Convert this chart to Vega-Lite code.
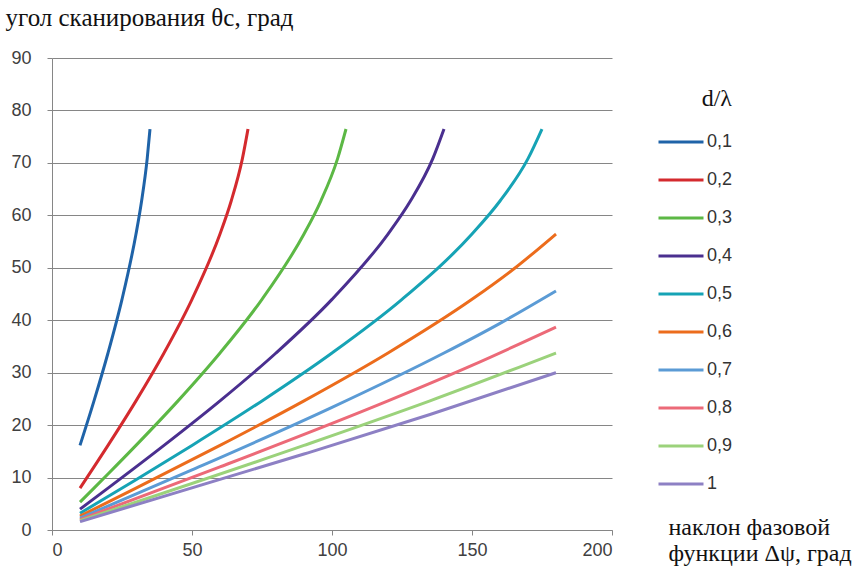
{
  "$schema": "https://vega.github.io/schema/vega-lite/v6.json",
  "width": 560,
  "height": 472,
  "autosize": {"type": "none"},
  "padding": {"left": 52, "top": 58, "right": 246, "bottom": 44},
  "background": "white",
  "config": {"view": {"stroke": null}},
  "data": {"values": [
    {"x": 10, "y": 16.13, "d": "0,1"}, {"x": 15, "y": 24.62, "d": "0,1"}, {"x": 20, "y": 33.75, "d": "0,1"}, {"x": 25, "y": 43.98, "d": "0,1"}, {"x": 30, "y": 56.44, "d": "0,1"}, {"x": 32, "y": 62.73, "d": "0,1"}, {"x": 34, "y": 70.81, "d": "0,1"}, {"x": 35, "y": 76.46, "d": "0,1"},
    {"x": 10, "y": 7.98, "d": "0,2"}, {"x": 20, "y": 16.13, "d": "0,2"}, {"x": 30, "y": 24.62, "d": "0,2"}, {"x": 40, "y": 33.75, "d": "0,2"}, {"x": 50, "y": 43.98, "d": "0,2"}, {"x": 60, "y": 56.44, "d": "0,2"}, {"x": 64, "y": 62.73, "d": "0,2"}, {"x": 68, "y": 70.81, "d": "0,2"}, {"x": 70, "y": 76.46, "d": "0,2"},
    {"x": 10, "y": 5.31, "d": "0,3"}, {"x": 15, "y": 7.98, "d": "0,3"}, {"x": 20, "y": 10.67, "d": "0,3"}, {"x": 30, "y": 16.13, "d": "0,3"}, {"x": 45, "y": 24.62, "d": "0,3"}, {"x": 60, "y": 33.75, "d": "0,3"}, {"x": 75, "y": 43.98, "d": "0,3"}, {"x": 90, "y": 56.44, "d": "0,3"}, {"x": 96, "y": 62.73, "d": "0,3"}, {"x": 102, "y": 70.81, "d": "0,3"}, {"x": 105, "y": 76.46, "d": "0,3"},
    {"x": 10, "y": 3.98, "d": "0,4"}, {"x": 20, "y": 7.98, "d": "0,4"}, {"x": 40, "y": 16.13, "d": "0,4"}, {"x": 60, "y": 24.62, "d": "0,4"}, {"x": 80, "y": 33.75, "d": "0,4"}, {"x": 100, "y": 43.98, "d": "0,4"}, {"x": 120, "y": 56.44, "d": "0,4"}, {"x": 128, "y": 62.73, "d": "0,4"}, {"x": 136, "y": 70.81, "d": "0,4"}, {"x": 140, "y": 76.46, "d": "0,4"},
    {"x": 10, "y": 3.19, "d": "0,5"}, {"x": 20, "y": 6.38, "d": "0,5"}, {"x": 30, "y": 9.59, "d": "0,5"}, {"x": 50, "y": 16.13, "d": "0,5"}, {"x": 75, "y": 24.62, "d": "0,5"}, {"x": 100, "y": 33.75, "d": "0,5"}, {"x": 125, "y": 43.98, "d": "0,5"}, {"x": 150, "y": 56.44, "d": "0,5"}, {"x": 160, "y": 62.73, "d": "0,5"}, {"x": 170, "y": 70.81, "d": "0,5"}, {"x": 175, "y": 76.46, "d": "0,5"},
    {"x": 10, "y": 2.65, "d": "0,6"}, {"x": 30, "y": 7.98, "d": "0,6"}, {"x": 60, "y": 16.13, "d": "0,6"}, {"x": 90, "y": 24.62, "d": "0,6"}, {"x": 120, "y": 33.75, "d": "0,6"}, {"x": 150, "y": 43.98, "d": "0,6"}, {"x": 165, "y": 49.81, "d": "0,6"}, {"x": 180, "y": 56.44, "d": "0,6"},
    {"x": 10, "y": 2.27, "d": "0,7"}, {"x": 50, "y": 11.45, "d": "0,7"}, {"x": 100, "y": 23.38, "d": "0,7"}, {"x": 140, "y": 33.75, "d": "0,7"}, {"x": 160, "y": 39.41, "d": "0,7"}, {"x": 180, "y": 45.58, "d": "0,7"},
    {"x": 10, "y": 1.99, "d": "0,8"}, {"x": 60, "y": 12.03, "d": "0,8"}, {"x": 120, "y": 24.62, "d": "0,8"}, {"x": 150, "y": 31.39, "d": "0,8"}, {"x": 180, "y": 38.68, "d": "0,8"},
    {"x": 10, "y": 1.77, "d": "0,9"}, {"x": 90, "y": 16.13, "d": "0,9"}, {"x": 135, "y": 24.62, "d": "0,9"}, {"x": 180, "y": 33.75, "d": "0,9"},
    {"x": 10, "y": 1.59, "d": "1"}, {"x": 90, "y": 14.48, "d": "1"}, {"x": 135, "y": 22.02, "d": "1"}, {"x": 180, "y": 30.0, "d": "1"}
  ]},
  "mark": {"type": "line", "interpolate": "monotone", "strokeWidth": 3},
  "encoding": {
    "x": {
      "field": "x", "type": "quantitative",
      "scale": {"domain": [0, 200], "nice": false},
      "axis": {
        "values": [0, 50, 100, 150, 200],
        "grid": false,
        "domainColor": "#868686", "tickColor": "#868686", "tickSize": 5,
        "labelFont": "Liberation Sans", "labelFontSize": 18, "labelColor": "#404040", "labelPadding": 6,
        "title": ["наклон фазовой", "функции Δψ, град"],
        "titleFont": "Liberation Serif", "titleFontSize": 24, "titleFontWeight": "normal", "titleColor": "#111111",
        "titleAlign": "left", "titleBaseline": "top", "titleAngle": 0,
        "titleX": 616, "titleY": -15, "titleLineHeight": 26
      }
    },
    "y": {
      "field": "y", "type": "quantitative",
      "scale": {"domain": [0, 90], "nice": false},
      "axis": {
        "values": [0, 10, 20, 30, 40, 50, 60, 70, 80, 90],
        "grid": true, "gridColor": "#868686", "gridWidth": 1,
        "domainColor": "#868686", "tickColor": "#868686", "tickSize": 5,
        "labelFont": "Liberation Sans", "labelFontSize": 18, "labelColor": "#404040", "labelPadding": 16,
        "title": "угол сканирования θc, град",
        "titleFont": "Liberation Serif", "titleFontSize": 25, "titleFontWeight": "normal", "titleColor": "#111111",
        "titleAngle": 0, "titleAlign": "left", "titleBaseline": "top",
        "titleX": -47, "titleY": -53
      }
    },
    "color": {
      "field": "d", "type": "nominal",
      "scale": {
        "domain": ["0,1", "0,2", "0,3", "0,4", "0,5", "0,6", "0,7", "0,8", "0,9", "1"],
        "range": ["#1f63a8", "#d42a2e", "#5cb845", "#4a2f8f", "#16a3b5", "#ec6c1c", "#5b9bd5", "#ec6a78", "#9bd27b", "#8d80c4"]
      },
      "legend": {
        "orient": "none", "legendX": 605, "legendY": 29,
        "title": "d/λ", "titleFont": "Liberation Serif", "titleFontSize": 24, "titleFontWeight": "normal", "titleColor": "#111111",
        "titleAnchor": "end", "titlePadding": 7,
        "symbolType": "stroke", "symbolSize": 2025, "symbolStrokeWidth": 3,
        "labelFont": "Liberation Sans", "labelFontSize": 18, "labelColor": "#333333", "labelOffset": 2,
        "rowPadding": 5
      }
    }
  }
}
